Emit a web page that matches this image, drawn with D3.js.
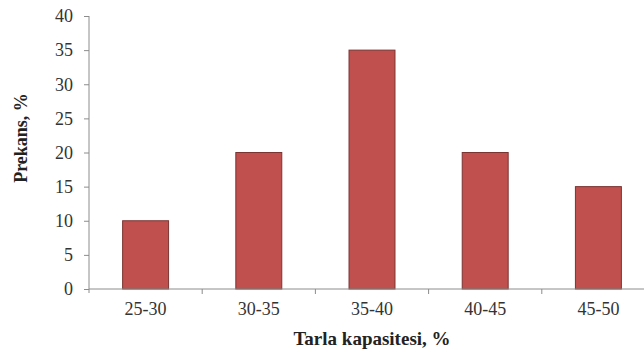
<!DOCTYPE html>
<html><head><meta charset="utf-8">
<script src="https://cdn.jsdelivr.net/npm/d3@7"></script>
<style>body{margin:0;background:#fff;}svg{display:block;}</style>
</head><body>
<svg id="c" width="644" height="354"></svg>
<script>
const categories = ["25-30","30-35","35-40","40-45","45-50"];
const values = [10, 20, 35, 20, 15];
const yTicks = [0,5,10,15,20,25,30,35,40];
const xTitle = "Tarla kapasitesi, %";
const yTitle = "Prekans, %";

const svg = d3.select("#c");
const L = 89, R = 655, T = 16, B = 289;
const font = "'Liberation Serif','Times New Roman',serif";

const x = d3.scaleBand().domain(categories).range([L, R]).paddingInner(0.594).paddingOuter(0.297);
const y = d3.scaleLinear().domain([0, 40]).range([B, T]);

// y axis
const ya = svg.append("g").attr("transform", `translate(${L},0)`)
  .call(d3.axisLeft(y).tickValues(yTicks).tickSize(5).tickPadding(11));
ya.select(".domain").attr("stroke", "#8c8c8c").attr("d", `M0,${T}V${B+4}`);
ya.selectAll(".tick line").attr("stroke", "#8c8c8c");
ya.selectAll(".tick text").attr("font-family", font).attr("font-size", 18).attr("fill", "#333");

// bars
svg.append("g").selectAll("rect").data(values).join("rect")
  .attr("x", (d,i) => x(categories[i]))
  .attr("y", d => y(d))
  .attr("width", x.bandwidth())
  .attr("height", d => y(0) - y(d))
  .attr("fill", "#c0504d")
  .attr("stroke", "#7b3432")
  .attr("stroke-width", 1);

// x axis
const xa = svg.append("g").attr("transform", `translate(0,${B})`)
  .call(d3.axisBottom(x).tickSize(0).tickPadding(13));
xa.select(".domain").attr("stroke", "#8c8c8c").attr("d", `M${L},0H${R}`);
xa.selectAll(".tick text").attr("font-family", font).attr("font-size", 18).attr("fill", "#333");
// category boundary ticks
const bounds = categories.map(c => x(c) + x.bandwidth() + (x.step() - x.bandwidth())/2);
svg.append("g").selectAll("line").data(bounds).join("line")
  .attr("x1", d => d).attr("x2", d => d).attr("y1", B).attr("y2", B + 5)
  .attr("stroke", "#8c8c8c");

// titles
svg.append("text").attr("x", 372).attr("y", 345).attr("text-anchor", "middle")
  .attr("font-family", font).attr("font-size", 19).attr("font-weight", "bold").attr("fill", "#222")
  .text(xTitle);
svg.append("text").attr("transform", "translate(27,138) rotate(-90)").attr("text-anchor", "middle")
  .attr("font-family", font).attr("font-size", 18).attr("font-weight", "bold").attr("fill", "#222")
  .text(yTitle);
</script>
</body></html>
